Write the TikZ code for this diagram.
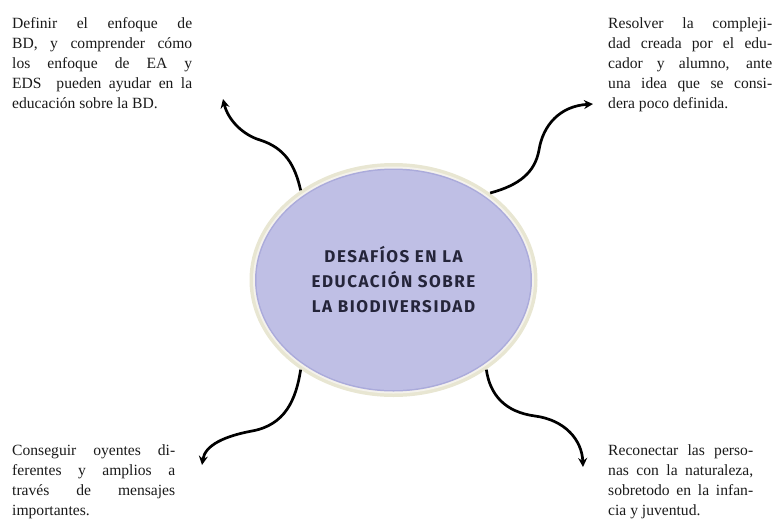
\documentclass[tikz,border=0pt]{standalone}
\usepackage{fontspec}
\setmainfont{Liberation Serif}
\newfontfamily\titlefont[LetterSpace=9]{Fira Sans}
\usetikzlibrary{shapes.geometric,arrows.meta}
\definecolor{creamc}{HTML}{E8E6D2}
\definecolor{gapc}{HTML}{F4F2EC}
\definecolor{lavline}{HTML}{ABABDB}
\definecolor{lavfill}{HTML}{BFBFE5}
\definecolor{titlec}{HTML}{25253A}
\definecolor{bodyc}{HTML}{1A1A1A}
\tikzset{
  ringlayer/.style={ellipse, inner sep=0pt, draw=none},
  bodytext/.style={anchor=north west, inner sep=0pt, align=left, text=bodyc,
    font=\fontsize{15.6}{20.2}\selectfont},
  wavyarrow/.style={line width=2.7pt, draw=black, -{Stealth[length=9pt,width=9pt]}},
}
\newcommand{\jline}[2]{\makebox[#1pt][s]{#2}}
\begin{document}
\begin{tikzpicture}[x=1pt,y=-1pt]
\useasboundingbox (0,0) rectangle (774,520);
% central ellipse, layered
\node[ringlayer, fill=creamc, minimum width=288pt, minimum height=234pt] (outer) at (393.5,280) {};
\node[ringlayer, fill=gapc, minimum width=281pt, minimum height=227pt] (gap) at (outer.center) {};
\node[ringlayer, fill=lavline, minimum width=277pt, minimum height=223pt] (edge) at (outer.center) {};
\node[ringlayer, fill=lavfill, minimum width=274pt, minimum height=220pt, text=titlec, align=center,
  font=\titlefont\bfseries\fontsize{17}{25}\selectfont] (c) at (outer.center)
  {DESAFÍOS EN LA\\EDUCACIÓN SOBRE\\LA BIODIVERSIDAD};
% text blocks
\node[bodytext] (t1) at (12,17) {\jline{180}{Definir el enfoque de}\\
\jline{180}{BD, y comprender cómo}\\
\jline{180}{los enfoque de EA y}\\
\jline{180}{EDS \ pueden ayudar en la}\\
educación sobre la BD.};
\node[bodytext] (t2) at (608,17) {\jline{164}{Resolver la compleji-}\\
\jline{164}{dad creada por el edu-}\\
\jline{164}{cador y alumno, ante}\\
\jline{164}{una idea que se consi-}\\
dera poco definida.};
\node[bodytext] (t3) at (12,444) {\jline{163}{Conseguir oyentes di-}\\
\jline{163}{ferentes y amplios a}\\
\jline{163}{través de mensajes}\\
importantes.};
\node[bodytext] (t4) at (608,444) {\jline{145}{Reconectar las perso-}\\
\jline{145}{nas con la naturaleza,}\\
\jline{145}{sobretodo en la infan-}\\
cia y juventud.};
% arrow tips
\coordinate (a1) at (223,99);
\coordinate (a2) at (593,104);
\coordinate (a3) at (202,465);
\coordinate (a4) at (583,467);
% arrows
\draw[wavyarrow] (outer.136) .. controls (295,165) and (285,148) .. (260,140)
  .. controls (243,135) and (228,120) .. (a1);
\draw[wavyarrow] (outer.42) .. controls (520,185) and (535,172) .. (539,150)
  .. controls (543,125) and (560,106) .. (a2);
\draw[wavyarrow] (outer.224) .. controls (296,400) and (285,425) .. (252,431)
  .. controls (225,436) and (205,445) .. (a3);
\draw[wavyarrow] (outer.316) .. controls (490,395) and (505,412) .. (535,416)
  .. controls (565,420) and (582,440) .. (a4);
\end{tikzpicture}
\end{document}
